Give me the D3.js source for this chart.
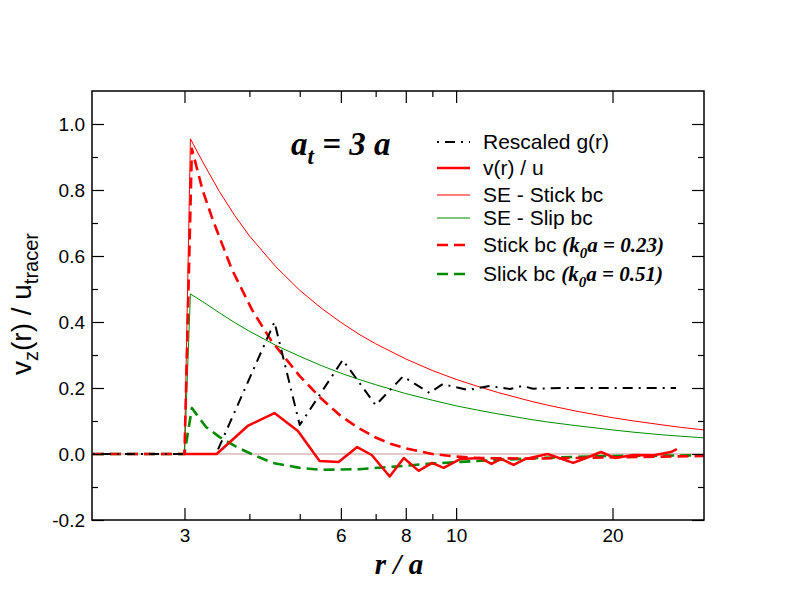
<!DOCTYPE html>
<html>
<head>
<meta charset="utf-8">
<script src="https://cdn.jsdelivr.net/npm/d3@7"></script>
<style>
  html, body { margin: 0; padding: 0; background: #fff; }
  svg { display: block; }
</style>
</head>
<body>
<svg id="chart" width="792" height="612"></svg>
<script>
// ---------------- data ----------------
const xMajorTicks = [3, 6, 8, 10, 20];
const xMinorTicks = [4, 5, 7, 9];
const yMajorTicks = [-0.2, 0, 0.2, 0.4, 0.6, 0.8, 1.0];
const yMinorTicks = [-0.1, 0.1, 0.3, 0.5, 0.7, 0.9];

// Rescaled g(r)  (black dash-dot)
const gR = [2.0, 3.45, 4.47, 5.0, 6.05, 7.0, 7.9, 8.89, 9.42, 10.54, 11.6, 12.7, 13.4, 14.07, 16, 20, 26.5];
const gV = [0, 0, 0.40, 0.088, 0.285, 0.148, 0.235, 0.185, 0.212, 0.194, 0.206, 0.197, 0.206, 0.198, 0.200, 0.200, 0.200];

// v(r)/u  (thick red solid)
const vR = [3.0, 3.46, 3.97, 4.47, 4.96, 5.46, 5.94, 6.45, 6.88, 7.45, 7.93, 8.47, 8.99, 9.46, 10.2, 11.1, 11.7, 12.2, 12.9, 13.6, 15.0, 16.8, 17.8, 19.0, 20.2, 22.0, 24.0, 25.9, 26.6];
const vV = [0, 0, 0.085, 0.124, 0.070, -0.021, -0.024, 0.021, -0.003, -0.068, -0.012, -0.051, -0.027, -0.042, -0.015, -0.012, -0.030, -0.015, -0.033, -0.015, 0.000, -0.027, -0.012, 0.006, -0.012, -0.003, -0.004, 0.006, 0.015];

// SE - Stick bc (thin red)
const seStickR = [3.0, 3.08, 3.25, 3.5, 3.75, 4, 4.5, 5, 5.5, 6, 6.5, 7, 8, 9, 10, 11, 12, 14, 15, 17, 20, 22, 25, 27, 30];
const seStickV = [0, 0.955, 0.886, 0.796, 0.722, 0.661, 0.567, 0.496, 0.442, 0.399, 0.363, 0.334, 0.288, 0.253, 0.226, 0.205, 0.187, 0.159, 0.148, 0.130, 0.110, 0.100, 0.088, 0.081, 0.073];

// SE - Slip bc (thin green)
const seSlipR = [3.0, 3.08, 3.25, 3.5, 3.75, 4, 4.5, 5, 5.5, 6, 6.5, 7, 8, 9, 10, 11, 12, 14, 15, 17, 20, 22, 25, 27, 30];
const seSlipV = [0, 0.485, 0.462, 0.428, 0.398, 0.372, 0.329, 0.296, 0.268, 0.245, 0.226, 0.210, 0.183, 0.163, 0.146, 0.133, 0.122, 0.104, 0.097, 0.086, 0.073, 0.066, 0.058, 0.054, 0.049];

// Stick bc (k0a = 0.23)  (red dashed)
const stickR = [2.0, 3.0, 3.1, 3.25, 3.4, 3.7, 4.05, 4.4, 5.0, 5.5, 6.0, 6.5, 7.0, 7.5, 8.0, 9.0, 10, 11, 12, 14, 17, 20, 25, 30];
const stickV = [0, 0, 0.925, 0.80, 0.71, 0.56, 0.436, 0.345, 0.236, 0.168, 0.115, 0.078, 0.050, 0.030, 0.017, 0.000, -0.008, -0.012, -0.013, -0.014, -0.012, -0.010, -0.008, -0.006];

// Slick bc (k0a = 0.51)  (green dashed)
const slickR = [2.0, 3.0, 3.1, 3.3, 3.5, 3.78, 4.0, 4.43, 5.0, 5.5, 6.5, 7.5, 8.8, 10.2, 12, 14.5, 17, 19.5, 25, 30];
const slickV = [0, 0, 0.139, 0.082, 0.052, 0.021, 0.003, -0.027, -0.042, -0.048, -0.046, -0.039, -0.030, -0.024, -0.018, -0.012, -0.009, -0.006, -0.005, -0.004];

// zero reference line
const zeroR = [2, 30];
const zeroV = [0, 0];

// ---------------- chart ----------------
const svg = d3.select("#chart");
const L = 92, R = 704, T = 91, B = 520;

const x = d3.scaleLog().domain([2, 30]).range([L + 1, R]);
const y = d3.scaleLinear().domain([-0.2, 1.1]).range([B, T]);

const sans = "'Liberation Sans', Arial, Helvetica, sans-serif";
const serif = "'Liberation Serif', 'Times New Roman', serif";

const zip = (rs, vs) => rs.map((r, i) => ({ r, v: vs[i] }));
const line = d3.line().x(d => x(d.r)).y(d => y(d.v));

const plot = svg.append("g");
plot.append("clipPath").attr("id", "clip")
  .append("rect").attr("x", L).attr("y", T).attr("width", R - L).attr("height", B - T);
const lines = plot.append("g").attr("clip-path", "url(#clip)");

const series = [
  { r: zeroR, v: zeroV, color: "#c89696", width: 1.2, dash: null },
  { r: seStickR, v: seStickV, color: "#ff0000", width: 1, dash: null },
  { r: seSlipR, v: seSlipV, color: "#008c00", width: 1, dash: null },
  { r: slickR, v: slickV, color: "#008c00", width: 2.6, dash: "11,6" },
  { r: stickR, v: stickV, color: "#ff0000", width: 2.6, dash: "11,6" },
  { r: gR, v: gV, color: "#000000", width: 2, dash: "2,6,10,6" },
  { r: vR, v: vV, color: "#ff0000", width: 2.5, dash: null },
];
series.forEach(s => {
  lines.append("path")
    .datum(zip(s.r, s.v))
    .attr("d", line)
    .attr("fill", "none")
    .attr("stroke", s.color)
    .attr("stroke-width", s.width)
    .attr("stroke-linejoin", "round")
    .attr("stroke-dasharray", s.dash);
});

// ---------------- axes ----------------
const fmt = d => d.toFixed(1);
function styleAxis(g) {
  g.select(".domain").remove();
  g.selectAll(".tick line").attr("stroke", "#000").attr("stroke-width", 1.2);
  g.selectAll("text").attr("font-family", sans).attr("font-size", 19).attr("fill", "#000");
}
svg.append("g").attr("transform", `translate(0,${B})`)
  .call(d3.axisBottom(x).tickValues(xMajorTicks).tickFormat(d3.format("d")).tickSize(-12).tickPadding(9))
  .call(styleAxis);
svg.append("g").attr("transform", `translate(0,${B})`)
  .call(d3.axisBottom(x).tickValues(xMinorTicks).tickFormat("").tickSize(-6))
  .call(styleAxis);
svg.append("g").attr("transform", `translate(0,${T})`)
  .call(d3.axisTop(x).tickValues(xMajorTicks).tickFormat("").tickSize(-12))
  .call(styleAxis);
svg.append("g").attr("transform", `translate(0,${T})`)
  .call(d3.axisTop(x).tickValues(xMinorTicks).tickFormat("").tickSize(-6))
  .call(styleAxis);

svg.append("g").attr("transform", `translate(${L},0)`)
  .call(d3.axisLeft(y).tickValues(yMajorTicks).tickFormat(fmt).tickSize(-12).tickPadding(7))
  .call(styleAxis);
svg.append("g").attr("transform", `translate(${L},0)`)
  .call(d3.axisLeft(y).tickValues(yMinorTicks).tickFormat("").tickSize(-6))
  .call(styleAxis);
svg.append("g").attr("transform", `translate(${R},0)`)
  .call(d3.axisRight(y).tickValues(yMajorTicks).tickFormat("").tickSize(-12))
  .call(styleAxis);
svg.append("g").attr("transform", `translate(${R},0)`)
  .call(d3.axisRight(y).tickValues(yMinorTicks).tickFormat("").tickSize(-6))
  .call(styleAxis);

// frame
svg.append("rect").attr("x", L).attr("y", T).attr("width", R - L).attr("height", B - T)
  .attr("fill", "none").attr("stroke", "#000").attr("stroke-width", 1.5);

// ---------------- axis titles ----------------
svg.append("text")
  .attr("x", 399).attr("y", 574)
  .attr("text-anchor", "middle")
  .attr("font-family", serif).attr("font-weight", "bold").attr("font-style", "italic")
  .attr("font-size", 29)
  .text("r / a");

const yl = svg.append("text")
  .attr("transform", "translate(31,304) rotate(-90)")
  .attr("text-anchor", "middle")
  .attr("font-family", sans).attr("font-size", 28);
yl.append("tspan").text("v");
yl.append("tspan").attr("font-size", 20).attr("dy", 7).text("z");
yl.append("tspan").attr("dy", -7).text("(r) / u");
yl.append("tspan").attr("font-size", 20).attr("dy", 7).text("tracer");

// annotation
const ann = svg.append("text")
  .attr("x", 291).attr("y", 155)
  .attr("font-family", serif).attr("font-weight", "bold").attr("font-style", "italic")
  .attr("font-size", 33);
ann.append("tspan").text("a");
ann.append("tspan").attr("font-size", 23).attr("dy", 9).text("t");
ann.append("tspan").attr("dy", -9).text(" = 3 a");

// ---------------- legend ----------------
const legendItems = [
  { y: 142, color: "#000", width: 2, dash: "2,6,10,6", parts: [["Rescaled g(r)"]] },
  { y: 168, color: "#ff0000", width: 2.5, dash: null, parts: [["v(r) / u"]] },
  { y: 195, color: "#ff0000", width: 1, dash: null, parts: [["SE - Stick bc"]] },
  { y: 218, color: "#008c00", width: 1, dash: null, parts: [["SE - Slip bc"]] },
  { y: 245, color: "#ff0000", width: 2.6, dash: "11,6", parts: [["Stick bc "], ["(k", "s"], ["0", "sub"], ["a = 0.23)", "s2"]] },
  { y: 274, color: "#008c00", width: 2.6, dash: "11,6", parts: [["Slick bc "], ["(k", "s"], ["0", "sub"], ["a = 0.51)", "s2"]] },
];
const lg = svg.append("g");
legendItems.forEach(it => {
  lg.append("line")
    .attr("x1", 437).attr("x2", 470).attr("y1", it.y).attr("y2", it.y)
    .attr("stroke", it.color).attr("stroke-width", it.width)
    .attr("stroke-dasharray", it.dash);
  const t = lg.append("text")
    .attr("x", 483).attr("y", it.y + 7)
    .attr("font-family", sans).attr("font-size", 21).attr("fill", "#000");
  it.parts.forEach(p => {
    const ts = t.append("tspan").text(p[0]);
    if (p[1]) {
      ts.attr("font-family", serif).attr("font-weight", "bold").attr("font-style", "italic").attr("font-size", 21);
    }
    if (p[1] === "sub") ts.attr("font-size", 15).attr("dy", 6);
    if (p[1] === "s2") ts.attr("dy", -6);
  });
});
</script>
</body>
</html>
